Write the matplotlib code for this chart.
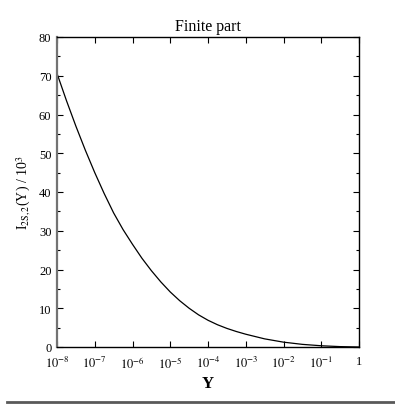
import numpy as np
import matplotlib
matplotlib.use("Agg")
import matplotlib.pyplot as plt
from matplotlib.lines import Line2D

plt.rcParams['font.family'] = ['Liberation Serif', 'DejaVu Serif']
plt.rcParams['mathtext.fontset'] = 'stix'

# curve: log10(Y) and I_2S,2(Y)/10^3
log_y = [-8.0, -7.75, -7.5, -7.25, -7.0, -6.75, -6.5, -6.25, -6.0, -5.75, -5.5,
         -5.25, -5.0, -4.75, -4.5, -4.25, -4.0, -3.75, -3.5, -3.25, -3.0,
         -2.5, -2.0, -1.5, -1.0, -0.5, 0.0]
i_val = [70.6, 63.6, 57.0, 50.8, 45.0, 39.6, 34.6, 30.3, 26.5, 22.9, 19.7,
         16.8, 14.2, 11.95, 10.0, 8.3, 6.9, 5.75, 4.8, 4.0, 3.3,
         2.1, 1.25, 0.68, 0.32, 0.1, 0.0]

xticks = [1e-8, 1e-7, 1e-6, 1e-5, 1e-4, 1e-3, 1e-2, 1e-1, 1]
xlabels = [r'$10^{-8}$', r'$10^{-7}$', r'$10^{-6}$', r'$10^{-5}$', r'$10^{-4}$',
           r'$10^{-3}$', r'$10^{-2}$', r'$10^{-1}$', '1']
yticks = [0, 10, 20, 30, 40, 50, 60, 70, 80]

fig = plt.figure(figsize=(3.95, 4.06), dpi=100)
ax = fig.add_axes([57/395, 1-348/406, 302/395, 310/406])

ax.plot(10**np.array(log_y), i_val, color='black', lw=0.9)

ax.set_xscale('log')
ax.set_xlim(1e-8, 1)
ax.set_ylim(0, 80)
ax.set_xticks(xticks)
ax.set_xticklabels(xlabels, fontsize=9)
ax.xaxis.set_minor_locator(matplotlib.ticker.NullLocator())
ax.set_yticks(yticks)
ax.set_yticklabels([str(v) for v in yticks], fontsize=9)
ax.yaxis.set_minor_locator(matplotlib.ticker.MultipleLocator(5))

ax.tick_params(which='both', direction='in', top=True, right=True)
ax.tick_params(which='major', length=4, width=0.8)
ax.tick_params(which='minor', length=2.5, width=0.8)
ax.tick_params(axis='x', pad=6)
ax.tick_params(axis='y', pad=4)

for s in ['top', 'right', 'bottom']:
    ax.spines[s].set_linewidth(1.0)
ax.spines['left'].set_color('0.45')
ax.spines['left'].set_linewidth(1.6)

ax.set_title('Finite part', fontsize=11.5, pad=5)
ax.set_xlabel('Y', fontsize=12, fontweight='bold', labelpad=3)
ax.set_ylabel(r'I$_{\rm 2S,2}$(Y) / 10$^3$', fontsize=10)
ax.yaxis.set_label_coords(-0.08, 0.5)

fig.add_artist(Line2D([7/395, 1.0], [1-403/406, 1-403/406],
                      color='0.35', lw=2.0, transform=fig.transFigure))

plt.savefig('out.png', dpi=100)
